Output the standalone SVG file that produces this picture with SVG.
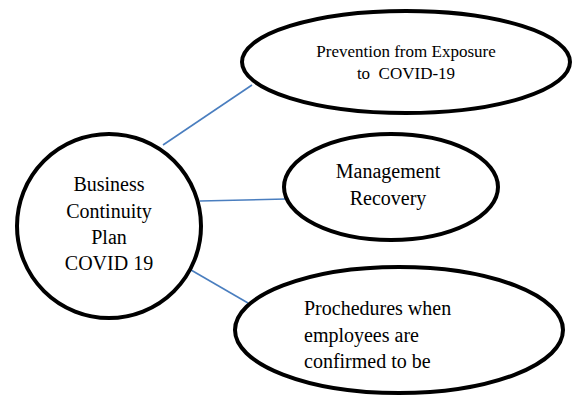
<svg xmlns="http://www.w3.org/2000/svg" width="574" height="398" viewBox="0 0 574 398">
  <style>
    .shape { fill: #ffffff; stroke: #000000; stroke-width: 4; }
    .link { stroke: #4a7ebf; stroke-width: 1.6; fill: none; }
    .label { font-family: "Liberation Serif", "Times New Roman", serif; fill: #000000; }
    .mid { text-anchor: middle; }
  </style>
  <rect width="574" height="398" fill="#ffffff"/>

  <!-- connectors from the central plan to each topic -->
  <g id="connectors">
    <line class="link" x1="163" y1="145" x2="252" y2="85"/>
    <line class="link" x1="200" y1="201" x2="286" y2="199"/>
    <line class="link" x1="191" y1="270" x2="248" y2="303"/>
  </g>

  <g id="node-plan">
    <circle class="shape" cx="109" cy="226" r="92"/>
    <text class="label mid" font-size="20" x="109" y="191">Business</text>
    <text class="label mid" font-size="20" x="109" y="218">Continuity</text>
    <text class="label mid" font-size="20" x="109" y="244">Plan</text>
    <text class="label mid" font-size="20" x="109" y="270">COVID 19</text>
  </g>

  <g id="node-prevention">
    <ellipse class="shape" cx="406" cy="62" rx="164" ry="51"/>
    <text class="label mid" font-size="17" x="406" y="57">Prevention from Exposure</text>
    <text class="label mid" font-size="17" x="406" y="79" xml:space="preserve">to  COVID-19</text>
  </g>

  <g id="node-management">
    <ellipse class="shape" cx="391" cy="187" rx="107" ry="53"/>
    <text class="label mid" font-size="20" x="388" y="178">Management</text>
    <text class="label mid" font-size="20" x="388" y="205">Recovery</text>
  </g>

  <g id="node-procedures">
    <ellipse class="shape" cx="399" cy="330" rx="164" ry="63"/>
    <text class="label" font-size="20" x="304" y="315">Prochedures when</text>
    <text class="label" font-size="20" x="304" y="342">employees are</text>
    <text class="label" font-size="20" x="304" y="368">confirmed to be</text>
  </g>
</svg>
